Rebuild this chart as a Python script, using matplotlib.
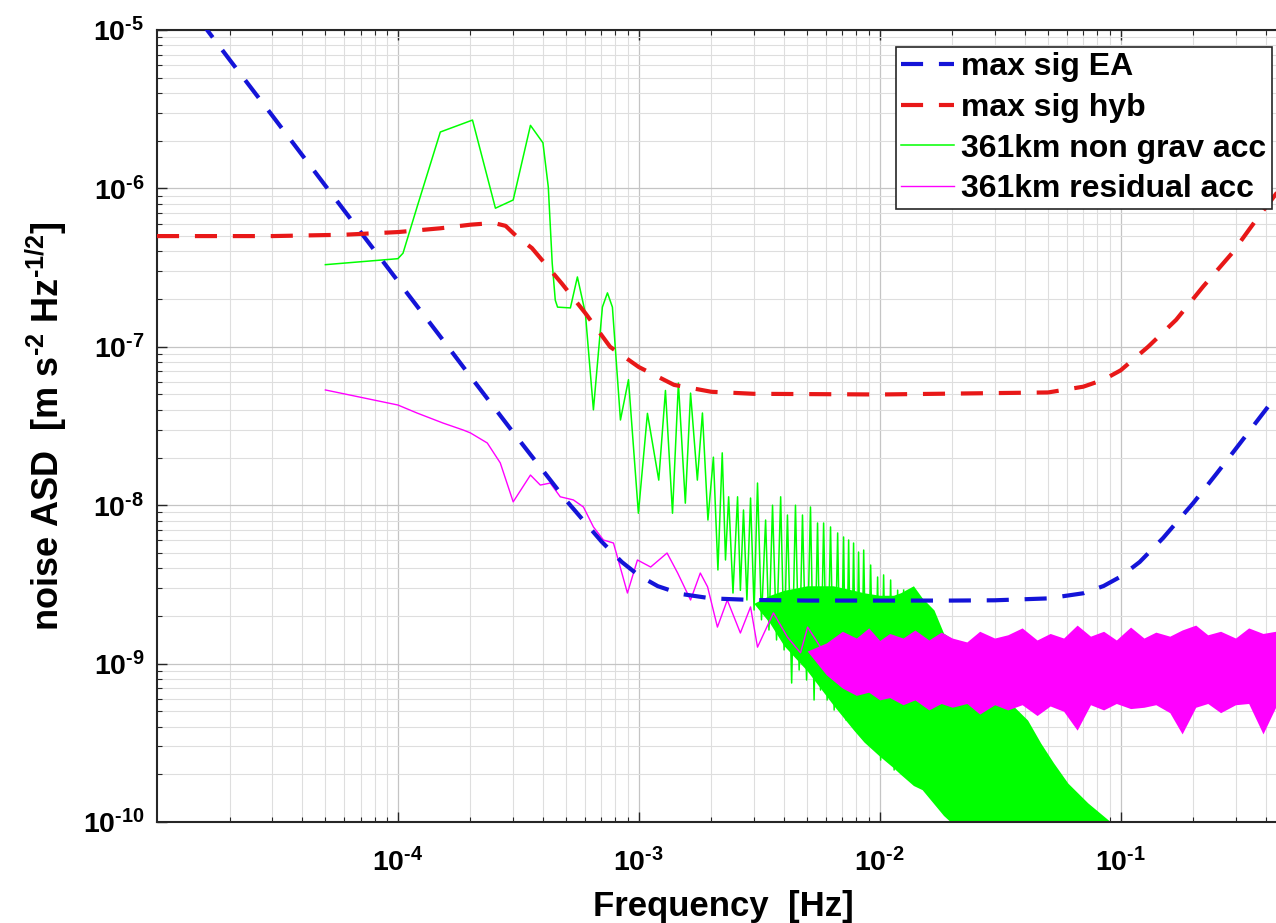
import matplotlib
matplotlib.use('Agg')
import matplotlib.pyplot as plt
from matplotlib.ticker import FixedLocator, LogLocator, FuncFormatter, NullFormatter
import numpy as np

plt.rcParams['font.family'] = ['Liberation Sans', 'DejaVu Sans']
plt.rcParams['font.weight'] = 'bold'
plt.rcParams['axes.labelweight'] = 'bold'
plt.rcParams['mathtext.fontset'] = 'custom'
plt.rcParams['mathtext.rm'] = 'Liberation Sans:bold'
plt.rcParams['mathtext.bf'] = 'Liberation Sans:bold'
plt.rcParams['mathtext.it'] = 'Liberation Sans:bold:italic'
plt.rcParams['mathtext.default'] = 'bf'

# max signal, electrostatic accelerometer
ea_f = [1.5e-5, 2e-5, 3e-5, 5e-5, 7e-5, 1e-4, 1.5e-4, 2e-4, 3e-4, 5e-4, 7e-4,
        8.5e-4, 1e-3, 1.2e-3, 1.5e-3, 2e-3, 3e-3, 5e-3, 1e-2, 2e-2, 3e-2, 5e-2,
        7e-2, 8.5e-2, 0.1, 0.12, 0.15, 0.2, 0.25, 0.3, 0.4, 0.5]
ea_v = [1.16e-5, 6.5e-6, 2.9e-6, 1.04e-6, 5.3e-7, 2.6e-7, 1.16e-7, 6.5e-8, 2.9e-8,
        1.07e-8, 5.9e-9, 4.38e-9, 3.6e-9, 3.08e-9, 2.75e-9, 2.58e-9, 2.52e-9, 2.5e-9,
        2.5e-9, 2.5e-9, 2.51e-9, 2.58e-9, 2.78e-9, 3.09e-9, 3.54e-9, 4.38e-9, 6.2e-9,
        1.03e-8, 1.58e-8, 2.26e-8, 4.0e-8, 6.25e-8]

# max signal, hybrid
hyb_f = [1e-5, 3e-5, 6e-5, 1e-4, 1.5e-4, 2e-4, 2.5e-4, 2.8e-4, 3.1e-4, 3.6e-4, 4.3e-4,
         4.8e-4, 6e-4, 7.6e-4, 1e-3, 1.4e-3, 2e-3, 3e-3, 1e-2, 5e-2, 7e-2, 8.5e-2,
         0.1, 0.13, 0.17, 0.22, 0.29, 0.37, 0.5]
hyb_v = [5.0e-7, 5.0e-7, 5.1e-7, 5.3e-7, 5.6e-7, 5.9e-7, 6.05e-7, 5.8e-7, 5.0e-7, 4.2e-7,
         3.05e-7, 2.5e-7, 1.63e-7, 1.0e-7, 7.45e-8, 5.75e-8, 5.2e-8, 5.05e-8, 5.0e-8,
         5.15e-8, 5.6e-8, 6.2e-8, 7.1e-8, 1.0e-7, 1.48e-7, 2.4e-7, 3.9e-7, 6.5e-7, 1.18e-6]

# non-gravitational acceleration at 361 km (peaks and troughs)
ng_f = [5.0e-5, 1.0e-4, 1.05e-4, 1.2e-4, 1.5e-4, 2.04e-4, 2.54e-4, 3.01e-4, 3.55e-4,
        4.0e-4, 4.21e-4, 4.37e-4, 4.5e-4, 4.6e-4, 5.2e-4, 5.56e-4, 6.0e-4, 6.48e-4,
        7.06e-4, 7.41e-4, 7.77e-4, 8.39e-4, 9.06e-4, 9.96e-4, 1.086e-3, 1.21e-3,
        1.29e-3, 1.38e-3, 1.46e-3, 1.56e-3, 1.64e-3, 1.75e-3,
        1.837e-3, 1.936e-3, 2.04e-3, 2.13e-3, 2.22e-3, 2.29e-3, 2.36e-3, 2.46e-3,
        2.57e-3, 2.64e-3, 2.72e-3, 2.81e-3, 2.91e-3, 3.01e-3, 3.11e-3, 3.23e-3,
        3.36e-3, 3.47e-3, 3.59e-3, 3.73e-3, 3.88e-3, 4.01e-3, 4.14e-3, 4.31e-3,
        4.47e-3, 4.63e-3, 4.78e-3, 4.97e-3, 5.16e-3, 5.34e-3, 5.52e-3, 5.68e-3,
        5.85e-3, 6.05e-3, 6.25e-3, 6.47e-3, 6.69e-3, 6.88e-3, 7.08e-3, 7.25e-3,
        7.43e-3, 7.61e-3, 7.79e-3, 7.98e-3, 8.17e-3, 8.37e-3, 8.58e-3, 8.87e-3,
        9.17e-3, 9.48e-3, 9.8e-3, 1.009e-2, 1.038e-2, 1.073e-2, 1.11e-2, 1.148e-2,
        1.187e-2, 1.221e-2, 1.257e-2]
ng_v = [3.3e-7, 3.6e-7, 3.9e-7, 7.6e-7, 2.27e-6, 2.7e-6, 7.5e-7, 8.45e-7, 2.5e-6,
        1.94e-6, 1.02e-6, 3.38e-7, 1.97e-7, 1.78e-7, 1.76e-7, 2.76e-7, 1.63e-7, 4.0e-8,
        1.78e-7, 2.19e-7, 1.78e-7, 3.45e-8, 6.2e-8, 8.9e-9, 3.8e-8, 1.44e-8,
        5.3e-8, 8.9e-9, 5.9e-8, 1.03e-8, 5.1e-8, 1.44e-8,
        3.82e-8, 8.06e-9, 2.01e-8, 3.9e-9, 2.14e-8, 4.51e-9, 1.13e-8, 2.79e-9,
        1.13e-8, 2.9e-9, 9.33e-9, 2.52e-9, 1.11e-8, 2.18e-9, 1.38e-8, 1.89e-9,
        8.06e-9, 1.63e-9, 1.0e-8, 1.41e-9, 1.13e-8, 1.22e-9, 8.67e-9, 7.54e-10,
        1.0e-8, 9.11e-10, 8.67e-9, 7.88e-10, 9.74e-9, 5.89e-10, 7.72e-9, 6.81e-10,
        7.72e-9, 5.89e-10, 7.29e-9, 5.09e-10, 6.68e-9, 5.48e-10, 6.3e-9, 4.4e-10,
        6.03e-9, 4.74e-10, 5.77e-9, 3.81e-10, 5.06e-9, 4.1e-10, 5.21e-9, 3.29e-10,
        4.19e-9, 3.06e-10, 3.52e-9, 2.46e-10, 3.63e-9, 2.65e-10, 3.37e-9, 2.13e-10,
        2.91e-9, 2.13e-10, 2.91e-9]

# dense part of the non-grav spectrum, upper / lower edge
ngb_f = [3.0e-3, 3.5e-3, 4.0e-3, 5.0e-3, 6.4e-3, 7.8e-3, 8.6e-3, 1.0e-2, 1.14e-2,
         1.22e-2, 1.38e-2, 1.5e-2, 1.68e-2, 1.84e-2, 1.97e-2, 2.32e-2, 2.7e-2,
         3.18e-2, 3.5e-2, 4.11e-2, 4.66e-2, 5.27e-2, 6.04e-2, 7.31e-2, 9.1e-2, 9.3e-2]
ngb_hi = [2.4e-9, 2.7e-9, 2.9e-9, 3.1e-9, 3.1e-9, 2.9e-9, 2.8e-9, 2.7e-9, 2.7e-9,
          2.8e-9, 3.1e-9, 2.6e-9, 2.18e-9, 1.56e-9, 1.45e-9, 1.22e-9, 7.9e-10,
          6.8e-10, 5.6e-10, 4.4e-10, 3.15e-10, 2.36e-10, 1.76e-10, 1.32e-10, 1.0e-10, 8e-11]
ngb_lo = [2.4e-9, 1.8e-9, 1.3e-9, 9.0e-10, 5.5e-10, 3.8e-10, 3.2e-10, 2.6e-10, 2.2e-10,
          2.0e-10, 1.7e-10, 1.6e-10, 1.3e-10, 1.1e-10, 1.0e-10, 8e-11, 8e-11,
          8e-11, 8e-11, 8e-11, 8e-11, 8e-11, 8e-11, 8e-11, 8e-11, 8e-11]

# residual acceleration at 361 km
res_f = [5.0e-5, 1.0e-4, 1.2e-4, 1.54e-4, 1.87e-4, 2.0e-4, 2.35e-4, 2.66e-4, 3.01e-4,
         3.55e-4, 3.9e-4, 4.29e-4, 4.72e-4, 5.35e-4, 5.89e-4, 6.48e-4, 7.13e-4, 7.85e-4,
         8.97e-4, 9.87e-4, 1.12e-3, 1.31e-3, 1.45e-3, 1.64e-3, 1.8e-3, 1.93e-3, 2.12e-3,
         2.33e-3, 2.64e-3, 2.91e-3, 3.11e-3, 3.62e-3, 4.14e-3, 4.69e-3, 5.02e-3, 5.68e-3,
         6.43e-3, 7.36e-3, 8.91e-3, 1.04e-2, 1.14e-2]
res_v = [5.34e-8, 4.29e-8, 3.82e-8, 3.30e-8, 2.98e-8, 2.86e-8, 2.47e-8, 1.85e-8, 1.05e-8,
         1.55e-8, 1.34e-8, 1.38e-8, 1.13e-8, 1.08e-8, 9.74e-9, 7.29e-9, 6.03e-9, 5.77e-9,
         2.79e-9, 4.51e-9, 4.07e-9, 4.99e-9, 3.73e-9, 2.52e-9, 3.73e-9, 3.05e-9, 1.70e-9,
         2.52e-9, 1.56e-9, 2.28e-9, 1.27e-9, 2.09e-9, 1.47e-9, 1.17e-9, 1.70e-9, 1.27e-9,
         9.52e-10, 1.17e-9, 9.52e-10, 1.17e-9, 9.52e-10]

# residual noise band above 5 mHz
resb_f = [5.0e-3, 6.0e-3, 7.0e-3, 8.0e-3, 9.0e-3, 1.0e-2, 1.1e-2, 1.25e-2, 1.4e-2, 1.6e-2,
          1.8e-2, 2.0e-2, 2.3e-2, 2.6e-2, 3.0e-2, 3.4e-2, 3.9e-2, 4.5e-2, 5.1e-2, 5.8e-2,
          6.6e-2, 7.5e-2, 8.5e-2, 9.6e-2, 0.11, 0.125, 0.14, 0.16, 0.18, 0.205, 0.23,
          0.26, 0.3, 0.34, 0.39, 0.44, 0.5]
resb_hi = [1.2e-9, 1.35e-9, 1.6e-9, 1.45e-9, 1.68e-9, 1.4e-9, 1.55e-9, 1.45e-9, 1.63e-9,
           1.41e-9, 1.58e-9, 1.45e-9, 1.37e-9, 1.6e-9, 1.45e-9, 1.52e-9, 1.68e-9, 1.41e-9,
           1.55e-9, 1.45e-9, 1.75e-9, 1.49e-9, 1.6e-9, 1.41e-9, 1.7e-9, 1.45e-9, 1.58e-9,
           1.49e-9, 1.63e-9, 1.75e-9, 1.52e-9, 1.6e-9, 1.45e-9, 1.68e-9, 1.55e-9, 1.6e-9,
           1.52e-9]
resb_lo = [1.2e-9, 8.5e-10, 7.0e-10, 6.3e-10, 6.6e-10, 5.9e-10, 6.1e-10, 5.5e-10, 5.9e-10,
           5.1e-10, 5.6e-10, 5.3e-10, 5.6e-10, 4.8e-10, 5.5e-10, 5.1e-10, 5.5e-10, 4.7e-10,
           5.4e-10, 5.0e-10, 3.8e-10, 5.5e-10, 5.1e-10, 5.6e-10, 5.2e-10, 5.3e-10, 5.5e-10,
           4.9e-10, 3.6e-10, 5.3e-10, 5.6e-10, 4.9e-10, 5.5e-10, 5.6e-10, 3.6e-10, 5.3e-10,
           5.8e-10]

xticks = [1e-4, 1e-3, 1e-2, 1e-1]
yticks = [1e-10, 1e-9, 1e-8, 1e-7, 1e-6, 1e-5]

fig = plt.figure(figsize=(12.76, 9.23), dpi=100)
ax = fig.add_axes([157/1276, 101/923, 1132/1276, 792/923])
ax.set_xscale('log')
ax.set_yscale('log')

dash = (5.3, 3.8)
ax.plot(ea_f, ea_v, color='#1414d8', lw=3, dashes=dash, label='max sig EA', zorder=5)
ax.plot(hyb_f, hyb_v, color='#e81818', lw=3, dashes=dash, label='max sig hyb', zorder=5)
ax.fill_between(ngb_f, ngb_lo, ngb_hi, color='#00ff00', lw=0, zorder=2)
ax.plot(ng_f, ng_v, color='#00ff00', lw=1.1, label='361km non grav acc', zorder=2)
ax.fill_between(resb_f, resb_lo, resb_hi, color='#ff00ff', lw=0, zorder=3)
ax.plot(res_f, res_v, color='#ff00ff', lw=1.0, label='361km residual acc', zorder=3)

ax.set_xlim(1e-5, 0.5)
ax.set_ylim(1e-10, 1e-5)

ax.xaxis.set_major_locator(FixedLocator(xticks))
ax.yaxis.set_major_locator(FixedLocator(yticks))
ax.xaxis.set_minor_locator(LogLocator(base=10, subs=np.arange(2, 10), numticks=20))
ax.yaxis.set_minor_locator(LogLocator(base=10, subs=np.arange(2, 10), numticks=20))
fmt = FuncFormatter(lambda v, p: r'$10^{\text{-%d}}$' % round(-np.log10(v)))
ax.xaxis.set_major_formatter(fmt)
ax.yaxis.set_major_formatter(fmt)
ax.xaxis.set_minor_formatter(NullFormatter())
ax.yaxis.set_minor_formatter(NullFormatter())

ax.grid(which='major', color='#c4c4c4', lw=0.9)
ax.grid(which='minor', color='#dedede', lw=0.8)
ax.set_axisbelow(True)
ax.tick_params(which='both', direction='in', top=True, right=True, color='#262626')
ax.tick_params(which='major', length=7, width=1, labelsize=20.5)
ax.tick_params(axis='x', which='major', pad=19)
ax.tick_params(axis='y', which='major', pad=9)
ax.tick_params(which='minor', length=3.5, width=0.8)
for s in ax.spines.values():
    s.set_color('#262626')
    s.set_linewidth(1.5)

ax.set_xlabel('Frequency  [Hz]', fontsize=25, labelpad=9)
ax.set_ylabel(r'noise ASD  [m s$^{\text{-2}}$ Hz$^{\text{-1/2}}$]', fontsize=26, labelpad=10)

leg = ax.legend(loc='upper left', bbox_to_anchor=(896/1276, (923-47)/923),
                bbox_transform=fig.transFigure, borderaxespad=0, fontsize=23,
                frameon=True, fancybox=False, framealpha=1, edgecolor='#262626',
                handlelength=1.65, handletextpad=0.22, labelspacing=0.33, borderpad=0.17)
leg.get_frame().set_linewidth(1.2)
leg.set_zorder(10)

fig.savefig('out.png', dpi=100)
